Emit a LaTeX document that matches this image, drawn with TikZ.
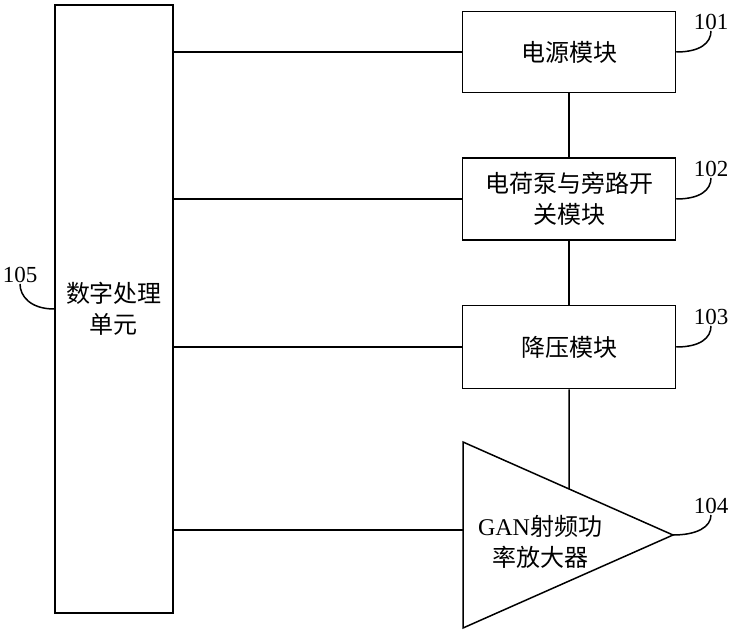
\documentclass[tikz,border=0pt]{standalone}
\usepackage{fontspec}
\setmainfont{Liberation Serif}
\newfontfamily\cjk{Noto Sans CJK SC}
\usetikzlibrary{calc}

\begin{document}
\begin{tikzpicture}[x=1pt,y=-1pt]

\tikzset{block/.style = {shape=rectangle,draw,line width=1.5pt,minimum width=213pt,minimum height=81pt,align=center,font=\fontsize{24}{31}\selectfont\cjk}}
\tikzset{tag/.style = {font=\fontsize{23}{24}\selectfont,inner sep=1pt}}
\tikzset{wire/.style = {line width=1.5pt}}
\tikzset{lead/.style = {line width=1.5pt}}
\useasboundingbox (0,0) rectangle (732,632);
% blocks
\node[block,minimum width=118pt,minimum height=608pt] (dsp) at (114,309) {数字处理\\单元};
\node[block] (power) at (569,52) {电源模块};
\node[block,minimum height=82pt] (pump) at (569,199) {电荷泵与旁路开\\关模块};
\node[block,minimum height=83pt] (buck) at (569,347) {降压模块};
% amplifier
\coordinate (ampa) at (463,442);
\coordinate (ampb) at (463,628);
\coordinate (ampc) at (673,535);
\coordinate (ampin) at (463,530);
\coordinate (amptop) at ($(ampa)!0.5048!(ampc)$);
\draw[wire] (ampa) -- (ampc) -- (ampb) -- cycle;
\node[font=\fontsize{24}{31}\selectfont\cjk,align=center] (amp) at (540,542) {{\rmfamily GAN}射频功\\率放大器};
% wires
\draw[wire] (dsp.east |- power.west) -- (power.west);
\draw[wire] (dsp.east |- pump.west) -- (pump.west);
\draw[wire] (dsp.east |- buck.west) -- (buck.west);
\draw[wire] (dsp.east |- ampin) -- (ampin);
\draw[wire] (power.south) -- (pump.north);
\draw[wire] (pump.south) -- (buck.north);
\draw[wire] (buck.south) -- (amptop);
% labels
\node[tag] (l101) at (711,22) {101};
\node[tag] (l102) at (711,169) {102};
\node[tag] (l103) at (711,317) {103};
\node[tag] (l104) at (711,506) {104};
\node[tag] (l105) at (20,275) {105};
\draw[lead] (power.east) .. controls +(24,0) and +(0,12) .. (l101.south);
\draw[lead] (pump.east) .. controls +(24,0) and +(0,12) .. (l102.south);
\draw[lead] (buck.east) .. controls +(24,0) and +(0,12) .. (l103.south);
\draw[lead] (ampc) .. controls +(24,0) and +(0,12) .. (l104.south);
\draw[lead] (dsp.west) .. controls +(-24,0) and +(0,12) .. (l105.south);

\end{tikzpicture}
\end{document}
